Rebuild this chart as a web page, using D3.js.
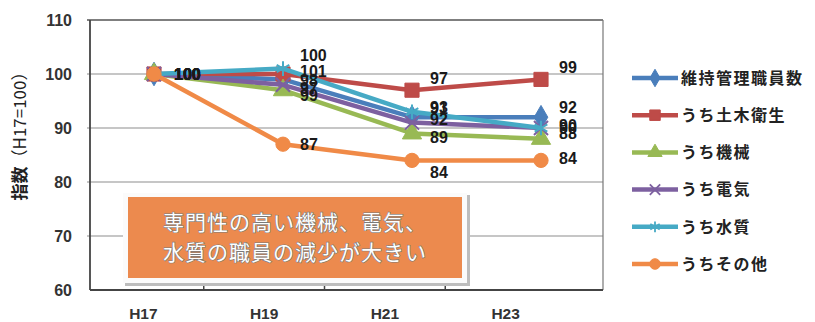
<!DOCTYPE html>
<html>
<head>
<meta charset="utf-8">
<script src="https://cdn.jsdelivr.net/npm/d3@7"></script>
<style>
  html, body { margin: 0; padding: 0; background: #fff; }
  svg { display: block; }
</style>
</head>
<body>
<svg id="chart" width="815" height="322"></svg>
<script>
// Staff index by year (H17 = 100)
const categories = ["H17", "H19", "H21", "H23"];
const seriesNames = ["維持管理職員数", "うち土木衛生", "うち機械", "うち電気", "うち水質", "うちその他"];
const valuesTotal = [100, 99, 92, 92];
const valuesCivil = [100, 100, 97, 99];
const valuesMech  = [100, 97, 89, 88];
const valuesElec  = [100, 98, 91, 90];
const valuesWater = [100, 101, 93, 90];
const valuesOther = [100, 87, 84, 84];
const yTicks = [60, 70, 80, 90, 100, 110];
const noteLines = ["専門性の高い機械、電気、", "水質の職員の減少が大きい"];

const seriesValues = [valuesTotal, valuesCivil, valuesMech, valuesElec, valuesWater, valuesOther];
const colors = ["#4A7EBB", "#BE4B48", "#98B954", "#7D60A0", "#46AAC5", "#F08A47"];
const symbols = [d3.symbolDiamond, d3.symbolSquare, d3.symbolTriangle, d3.symbolX, d3.symbolAsterisk, d3.symbolCircle];
const symbolSizes = [160, 200, 160, 130, 150, 160];
// label nudges (dx, dy) per series per category, keeps overlapping labels readable
const labelOffsets = [
  [[20, 0], [17, 16], [18, 2], [18, -10]],
  [[20, 0], [17, -19], [18, -12], [18, -12]],
  [[20, 0], [17, -2], [18, 4], [18, -6]],
  [[20, 0], [17, -5], [18, -14], [18, -3]],
  [[20, 0], [17, 3], [18, -5], [18, 0]],
  [[20, 0], [17, 0], [18, 12], [18, -2]]
];

const svg = d3.select("#chart");
const plot = { left: 90, right: 603, top: 20, bottom: 290 };

const y = d3.scaleLinear().domain([60, 110]).range([plot.bottom, plot.top]);
const xPts = d3.scalePoint().domain(categories).range([154, 541]);
const xAxisBand = d3.scaleBand().domain(categories).range([83, 566]);

const numFont = "'Liberation Sans', Arial, sans-serif";
const jpFont = "'Noto Sans CJK JP', 'Noto Sans', sans-serif";

// grid lines
svg.append("g")
  .selectAll("line")
  .data(yTicks.filter(t => t > 60 && t < 110))
  .join("line")
  .attr("x1", plot.left - 3).attr("x2", plot.right)
  .attr("y1", d => y(d)).attr("y2", d => y(d))
  .attr("stroke", "#8e8e8e").attr("stroke-width", 1.2);

// plot frame
svg.append("line").attr("x1", plot.left - 3).attr("x2", plot.right)
  .attr("y1", y(110)).attr("y2", y(110)).attr("stroke", "#555").attr("stroke-width", 1.5);
svg.append("line").attr("x1", plot.right).attr("x2", plot.right)
  .attr("y1", y(110)).attr("y2", y(60)).attr("stroke", "#777").attr("stroke-width", 1.2);
svg.append("line").attr("x1", plot.left).attr("x2", plot.left)
  .attr("y1", y(110)).attr("y2", y(60)).attr("stroke", "#444").attr("stroke-width", 1.8);

// y axis labels
const yAxis = d3.axisLeft(y).tickValues(yTicks).tickSize(0).tickPadding(18);
const gy = svg.append("g").attr("transform", `translate(${plot.left},0)`).call(yAxis);
gy.select(".domain").remove();
gy.selectAll("text")
  .attr("font-family", numFont).attr("font-size", 16).attr("font-weight", "bold").attr("fill", "#333");

// x axis
const xAxis = d3.axisBottom(xAxisBand).tickSize(0).tickPadding(18);
const gx = svg.append("g").attr("transform", `translate(0,${plot.bottom})`).call(xAxis);
gx.select(".domain").remove();
gx.selectAll("text")
  .attr("font-family", numFont).attr("font-size", 15.5).attr("font-weight", "bold").attr("fill", "#333");
svg.append("line").attr("x1", plot.left).attr("x2", plot.right)
  .attr("y1", plot.bottom).attr("y2", plot.bottom).attr("stroke", "#444").attr("stroke-width", 2);
svg.append("g").selectAll("line")
  .data(categories.slice(1))
  .join("line")
  .attr("x1", d => xAxisBand(d)).attr("x2", d => xAxisBand(d))
  .attr("y1", plot.bottom).attr("y2", plot.bottom - 6)
  .attr("stroke", "#444").attr("stroke-width", 1.5);

// y axis title
const yTitle = svg.append("text")
  .attr("transform", "translate(26,132) rotate(-90)")
  .attr("text-anchor", "middle")
  .attr("font-family", jpFont).attr("font-size", 17).attr("fill", "#222");
yTitle.append("tspan").attr("font-weight", "bold").text("指数");
yTitle.append("tspan").attr("font-weight", "normal").text("（H17=100）");

// series lines and markers
const line = d3.line().x((d, i) => xPts(categories[i])).y(d => y(d));
seriesValues.forEach((vals, s) => {
  const g = svg.append("g");
  g.append("path").datum(vals)
    .attr("d", line).attr("fill", "none")
    .attr("stroke", colors[s]).attr("stroke-width", 4.5)
    .attr("stroke-linejoin", "round");
  const sym = d3.symbol().type(symbols[s]).size(symbolSizes[s]);
  const isStroke = symbols[s] === d3.symbolX || symbols[s] === d3.symbolAsterisk;
  g.selectAll("path.m").data(vals).join("path").attr("class", "m")
    .attr("transform", (d, i) => `translate(${xPts(categories[i])},${y(d)})`)
    .attr("d", sym)
    .attr("fill", isStroke ? "none" : colors[s])
    .attr("stroke", colors[s]).attr("stroke-width", isStroke ? 2 : 1);
});

// data labels
seriesValues.forEach((vals, s) => {
  svg.append("g").selectAll("text").data(vals).join("text")
    .attr("x", (d, i) => xPts(categories[i]) + labelOffsets[s][i][0])
    .attr("y", (d, i) => y(d) + labelOffsets[s][i][1])
    .attr("dy", "0.36em")
    .attr("font-family", numFont).attr("font-size", 16).attr("font-weight", "bold")
    .attr("fill", "#1a1a1a")
    .text(d => d);
});

// legend
const legend = svg.append("g");
seriesNames.forEach((name, s) => {
  const ly = 78 + s * 37.2;
  const row = legend.append("g").attr("transform", `translate(0,${ly})`);
  row.append("line").attr("x1", 632).attr("x2", 678).attr("y1", 0).attr("y2", 0)
    .attr("stroke", colors[s]).attr("stroke-width", 4.5);
  const isStroke = symbols[s] === d3.symbolX || symbols[s] === d3.symbolAsterisk;
  row.append("path")
    .attr("transform", "translate(655,0)")
    .attr("d", d3.symbol().type(symbols[s]).size(symbolSizes[s] * 0.55))
    .attr("fill", isStroke ? "none" : colors[s])
    .attr("stroke", colors[s]).attr("stroke-width", isStroke ? 1.8 : 1);
  row.append("text").attr("x", 681).attr("dy", "0.36em")
    .attr("font-family", jpFont).attr("font-size", 16).attr("font-weight", "bold")
    .attr("letter-spacing", 1.5).attr("fill", "#222")
    .text(name);
});

// annotation box
const note = svg.append("g");
note.append("rect").attr("x", 125).attr("y", 195).attr("width", 345).attr("height", 91)
  .attr("fill", "#bdbdbd");
note.append("rect").attr("x", 123).attr("y", 193).attr("width", 344).attr("height", 90)
  .attr("fill", "#fbfbfb");
note.append("rect").attr("x", 128).attr("y", 197).attr("width", 334).attr("height", 81)
  .attr("fill", "#EC8A4E");
note.selectAll("text").data(noteLines).join("text")
  .attr("x", 295).attr("y", (d, i) => 222 + i * 30).attr("dy", "0.36em")
  .attr("text-anchor", "middle")
  .attr("font-family", jpFont).attr("font-size", 21).attr("font-weight", 400)
  .attr("letter-spacing", 1)
  .attr("fill", "#ffffff").attr("stroke", "#7a7a7a").attr("stroke-width", 1.2)
  .attr("paint-order", "stroke")
  .text(d => d);
</script>
</body>
</html>
